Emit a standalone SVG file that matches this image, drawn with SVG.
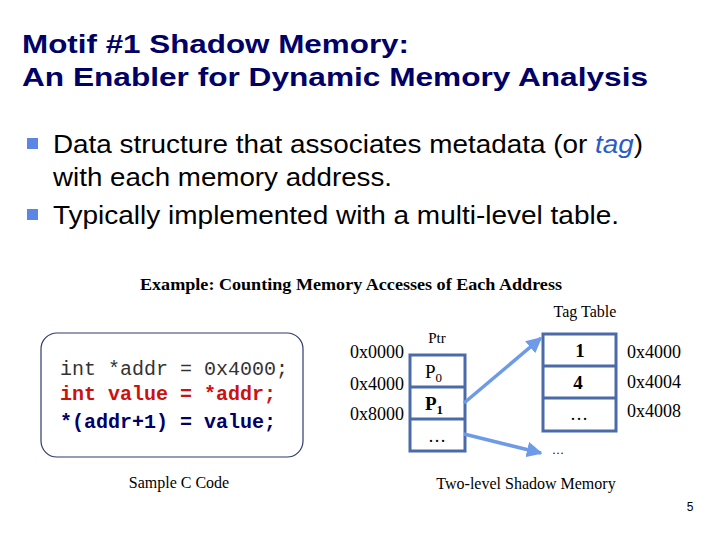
<svg xmlns="http://www.w3.org/2000/svg" width="720" height="540" viewBox="0 0 720 540">
<defs>
<style>
.title{font-family:"Liberation Sans",Arial,sans-serif;font-weight:bold;font-size:25px;fill:#000066}
.bul{font-family:"Liberation Sans",Arial,sans-serif;font-size:26px;fill:#000}
.ser{font-family:"Liberation Serif","Times New Roman",serif;fill:#000}
.code{font-family:"Liberation Mono","Courier New",monospace;font-size:20px}
.cell{fill:none;stroke:#4a6aa8;stroke-width:3}
.conn{stroke:#6e9be8;stroke-width:3.5;fill:none}
</style>
<marker id="ah" viewBox="0 0 10 10" refX="9" refY="5" markerWidth="4.5" markerHeight="4.5" orient="auto" markerUnits="strokeWidth">
<path d="M0,0 L10,5 L0,10 z" fill="#6e9be8"/>
</marker>
</defs>
<rect width="720" height="540" fill="#fff"/>
<g id="title">
<text class="title" x="22" y="53" textLength="387" lengthAdjust="spacingAndGlyphs">Motif #1 Shadow Memory:</text>
<text class="title" x="22" y="86" textLength="626" lengthAdjust="spacingAndGlyphs">An Enabler for Dynamic Memory Analysis</text>
</g>
<g id="bullets">
<rect x="27" y="138" width="11" height="11" fill="#5b86e6"/>
<text class="bul" x="53" y="153" textLength="590" lengthAdjust="spacingAndGlyphs">Data structure that associates metadata (or <tspan fill="#2a5cc8" font-style="italic">tag</tspan>)</text>
<text class="bul" x="53" y="186" textLength="339" lengthAdjust="spacingAndGlyphs">with each memory address.</text>
<rect x="27" y="209" width="11" height="11" fill="#5b86e6"/>
<text class="bul" x="53" y="224" textLength="566" lengthAdjust="spacingAndGlyphs">Typically implemented with a multi-level table.</text>
</g>
<text class="ser" x="140" y="290" font-size="17" font-weight="bold" textLength="422" lengthAdjust="spacingAndGlyphs">Example: Counting Memory Accesses of Each Address</text>
<g id="code">
<rect x="41" y="333" width="262" height="124" rx="16" fill="#fff" stroke="#2f3a6e" stroke-width="1.2"/>
<text class="code" x="60" y="375" fill="#333">int *addr = 0x4000;</text>
<text class="code" x="60" y="400" fill="#cc1111" font-weight="bold">int value = *addr;</text>
<text class="code" x="60" y="428" fill="#000066" font-weight="bold">*(addr+1) = value;</text>
<text class="ser" x="179" y="488" font-size="16" text-anchor="middle">Sample C Code</text>
</g>
<g id="ptr">
<text class="ser" x="437" y="343" font-size="15" text-anchor="middle">Ptr</text>
<rect class="cell" x="410" y="355" width="55" height="96"/>
<line class="cell" x1="410" y1="387" x2="465" y2="387"/>
<line class="cell" x1="410" y1="419" x2="465" y2="419"/>
<text class="ser" x="425" y="378" font-size="19">P<tspan font-size="13" dy="4">0</tspan></text>
<text class="ser" x="425" y="410" font-size="19" font-weight="bold" fill="#000066">P<tspan font-size="13" dy="4">1</tspan></text>
<text class="ser" x="437" y="442" font-size="18" text-anchor="middle">…</text>
<text class="ser" x="350" y="358" font-size="18">0x0000</text>
<text class="ser" x="350" y="390" font-size="18">0x4000</text>
<text class="ser" x="350" y="420" font-size="18">0x8000</text>
</g>
<g id="tagtable">
<text class="ser" x="585" y="317" font-size="16" text-anchor="middle">Tag Table</text>
<rect class="cell" x="543" y="334" width="73" height="97"/>
<line class="cell" x1="543" y1="366" x2="616" y2="366"/>
<line class="cell" x1="543" y1="398" x2="616" y2="398"/>
<text class="ser" x="580" y="357" font-size="19" font-weight="bold" fill="#cc1111" text-anchor="middle">1</text>
<text class="ser" x="578" y="389" font-size="19" font-weight="bold" fill="#000066" text-anchor="middle">4</text>
<text class="ser" x="579" y="420" font-size="18" text-anchor="middle">…</text>
<text class="ser" x="627" y="358" font-size="18">0x4000</text>
<text class="ser" x="627" y="388" font-size="18">0x4004</text>
<text class="ser" x="627" y="417" font-size="18">0x4008</text>
</g>
<g id="nextlevel">
<text class="ser" x="558" y="454" font-size="12" text-anchor="middle">…</text>
</g>
<g id="connectors">
<line class="conn" x1="464" y1="403" x2="541" y2="338" marker-end="url(#ah)"/>
<line class="conn" x1="464" y1="434" x2="541" y2="453" marker-end="url(#ah)"/>
</g>
<text class="ser" x="526" y="489" font-size="16" text-anchor="middle">Two-level Shadow Memory</text>
<text x="690" y="511" font-family="Liberation Sans,Arial,sans-serif" font-size="12" text-anchor="middle">5</text>
</svg>
